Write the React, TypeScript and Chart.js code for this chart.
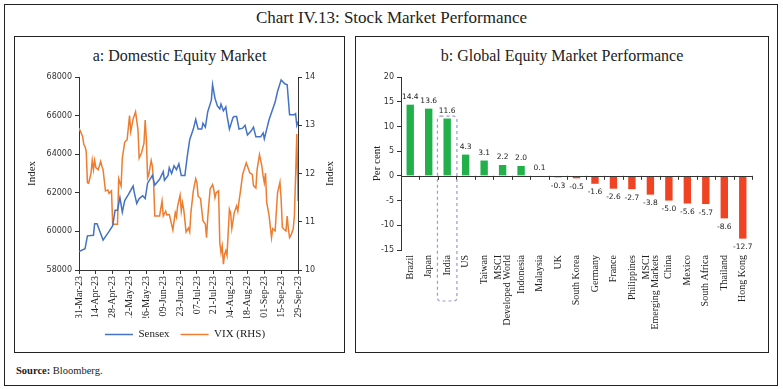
import React, { useEffect, useRef } from 'react';
import { Chart, registerables } from 'chart.js';

Chart.register(...registerables);

// ---------- Panel a: Domestic equity market ----------
// x values are calendar days since 31-Mar-23
const xTickLabels = [
  '31-Mar-23', '14-Apr-23', '28-Apr-23', '12-May-23', '26-May-23', '09-Jun-23', '23-Jun-23',
  '07-Jul-23', '21-Jul-23', '04-Aug-23', '18-Aug-23', '01-Sep-23', '15-Sep-23', '29-Sep-23',
];

const sensexDays = [
  0, 5, 7, 12, 13, 15, 20, 25, 28, 30, 32, 34, 36, 38, 41, 45, 46, 48, 50, 53, 55, 57, 61, 63, 67,
  70, 71, 74, 75, 77, 79, 81, 83, 85, 88, 90, 92, 95, 97, 99, 102, 103, 105, 107, 110, 111, 113,
  115, 117, 118, 120, 122, 123, 125, 128, 129, 131, 133, 136, 138, 140, 143, 145, 147, 151, 153,
  154, 156, 158, 163, 165, 168, 171, 173, 175, 179, 180, 181, 182,
];
const sensexValues = [
  58960, 59100, 59770, 59800, 60400, 60400, 59550, 60000, 60300, 61100, 61100, 61750, 61000, 61600,
  61900, 62350, 62000, 61450, 61700, 61850, 61700, 62500, 62900, 62400, 62700, 63100, 62650, 62900,
  63300, 63000, 63400, 63200, 63500, 62900, 62900, 63900, 64750, 65300, 65800, 65300, 65300, 65600,
  65400, 66200, 66800, 67600, 66900, 66500, 66350, 66600, 66250, 66450, 66000, 65300, 65900, 65950,
  65950, 65300, 65350, 65500, 65000, 65200, 65400, 64900, 64900, 65100, 64800, 65300, 65800, 66700,
  67250, 67850, 67650, 67600, 66050, 66050, 66100, 65500, 65700,
];

const vixDays = [
  0, 3, 4, 5, 6, 7, 8, 10, 11, 12, 13, 14, 16, 18, 19, 20, 22, 24, 25, 27, 28, 32, 33, 34, 35, 36,
  38, 40, 42, 43, 45, 47, 49, 50, 52, 54, 55, 56, 57, 58, 60, 61, 62, 63, 67, 69, 70, 72, 73, 75,
  76, 78, 80, 81, 82, 84, 85, 86, 87, 89, 91, 92, 93, 95, 97, 98, 99, 101, 103, 105, 106, 107, 109,
  111, 112, 113, 114, 116, 117, 118, 119, 120, 121, 122, 123, 125, 126, 127, 128, 129, 131, 132,
  133, 134, 136, 139, 140, 142, 144, 145, 147, 148, 150, 152, 153, 154, 155, 156, 158, 160, 161,
  163, 165, 167, 168, 169, 171, 172, 173, 174, 175, 176, 178, 179, 180, 181, 182,
];
const vixValues = [
  12.94, 12.77, 12.6, 12.56, 12.46, 11.81, 11.8, 12.01, 12.27, 12.08, 12.27, 12.12, 12.08, 12.25,
  12.15, 12.08, 11.64, 11.66, 11.59, 11.64, 10.95, 10.95, 11.89, 11.81, 11.74, 12.32, 12.65, 12.7,
  13.2, 12.87, 13.13, 13.28, 12.91, 12.32, 12.43, 12.63, 13.11, 12.7, 11.91, 11.98, 12.27, 12.15,
  11.81, 11.12, 11.12, 11.43, 11.12, 11.22, 11.14, 11.15, 11.05, 10.83, 11.19, 11.1, 11.33, 11.55,
  11.22, 11.4, 11.26, 10.79, 10.87, 10.79, 11.19, 11.64, 11.89, 11.81, 11.53, 11.48, 11.02, 10.95,
  10.67, 11.09, 11.68, 11.77, 11.67, 11.5, 11.6, 11.64, 10.57, 10.36, 10.5, 10.12, 10.33, 10.4,
  10.3, 11.26, 11.19, 10.86, 11.02, 11.19, 11.33, 11.22, 11.43, 11.6, 11.98, 12.22, 12.15, 12.01,
  11.98, 11.75, 11.7, 12.08, 12.39, 12.15, 11.95, 11.81, 12.01, 11.4, 11.12, 10.67, 10.86, 10.81,
  11.6, 11.82, 11.46, 10.88, 10.83, 10.81, 11.12, 10.85, 10.67, 10.71, 10.85, 11.12, 11.95, 12.82,
  11.43,
];

// ---------- Panel b: Global equity market performance ----------
const countries: (string | string[])[] = [
  'Brazil', 'Japan', 'India', 'US', 'Taiwan', ['MSCI', 'Developed World'], 'Indonesia', 'Malaysia',
  'UK', 'South Korea', 'Germany', 'France', 'Philippines', ['MSCI', 'Emerging Markets'], 'China',
  'Mexico', 'South Africa', 'Thailand', 'Hong Kong',
];
const changes = [
  14.4, 13.6, 11.6, 4.3, 3.1, 2.2, 2.0, 0.1, -0.3, -0.5, -1.6, -2.6, -2.7, -3.8, -5.0, -5.6, -5.7,
  -8.6, -12.7,
];
const highlighted = 'India';

const SERIF = '"Liberation Serif", serif';
const SANS = '"DejaVu Sans", sans-serif';
const AXIS = '#333333';
const TEXT = '#222222';
const GREEN = '#22b04b';
const RED = '#ef4323';

// right-hand axis title, reading bottom-to-top like the left one
const rightTitle = {
  id: 'rightTitle',
  afterDraw(chart: any) {
    const { ctx, chartArea } = chart;
    ctx.save();
    ctx.translate(chart.width - 14, (chartArea.top + chartArea.bottom) / 2);
    ctx.rotate(-Math.PI / 2);
    ctx.fillStyle = TEXT;
    ctx.font = `11px ${SERIF}`;
    ctx.textAlign = 'center';
    ctx.textBaseline = 'middle';
    ctx.fillText('Index', 0, 0);
    ctx.restore();
  },
};

function DomesticChart() {
  const ref = useRef<HTMLCanvasElement | null>(null);
  useEffect(() => {
    if (!ref.current) return;
    const chart = new Chart(ref.current, {
      type: 'line',
      data: {
        datasets: [
          {
            label: 'Sensex',
            data: sensexDays.map((d, i) => ({ x: d, y: sensexValues[i] })),
            borderColor: '#4472c4',
            backgroundColor: '#4472c4',
            borderWidth: 1.5,
            pointRadius: 0,
            yAxisID: 'y',
          },
          {
            label: 'VIX (RHS)',
            data: vixDays.map((d, i) => ({ x: d, y: vixValues[i] })),
            borderColor: '#ed7d31',
            backgroundColor: '#ed7d31',
            borderWidth: 1.5,
            pointRadius: 0,
            yAxisID: 'y1',
          },
        ],
      },
      options: {
        animation: false,
        responsive: false,
        maintainAspectRatio: false,
        layout: { padding: { top: 11, left: 0, right: 0, bottom: 2 } },
        plugins: {
          legend: {
            position: 'bottom',
            labels: {
              usePointStyle: true,
              pointStyle: 'line',
              pointStyleWidth: 28,
              font: { family: SERIF, size: 11 },
              color: TEXT,
              padding: 11,
            },
          },
          tooltip: { enabled: false },
        },
        scales: {
          x: {
            type: 'linear',
            min: 0,
            max: 182,
            ticks: {
              stepSize: 14,
              autoSkip: false,
              maxRotation: 90,
              minRotation: 90,
              callback: (v: any) => xTickLabels[Math.round(Number(v) / 14)] ?? '',
              font: { family: SERIF, size: 10 },
              color: TEXT,
              padding: 2,
            },
            grid: { display: true, drawOnChartArea: false, tickLength: 4, color: AXIS },
            border: { color: AXIS },
            afterFit: (s: any) => { s.height = 48; },
          },
          y: {
            position: 'left',
            min: 58000,
            max: 68000,
            ticks: { stepSize: 2000, font: { family: SANS, size: 8 }, color: AXIS, padding: 3, callback: (v: any) => String(v) },
            grid: { drawOnChartArea: false, tickLength: 4, color: AXIS },
            border: { color: AXIS },
            title: { display: true, text: 'Index', font: { family: SERIF, size: 11 }, color: TEXT, padding: 0 },
            afterFit: (s: any) => { s.width = 53; },
          },
          y1: {
            position: 'right',
            min: 10,
            max: 14,
            ticks: { stepSize: 1, font: { family: SANS, size: 8 }, color: AXIS, padding: 3, callback: (v: any) => String(v) },
            grid: { drawOnChartArea: false, tickLength: 4, color: AXIS },
            border: { color: AXIS },
            afterFit: (s: any) => { s.width = 46; },
          },
        },
      } as any,
      plugins: [rightTitle],
    });
    return () => chart.destroy();
  }, []);
  return <canvas ref={ref} width={318} height={286} style={{ position: 'absolute', left: 26, top: 66, width: 318, height: 286 }} />;
}

const barExtras = {
  id: 'barExtras',
  afterDatasetsDraw(chart: any) {
    const { ctx, chartArea, scales } = chart;
    const x = scales.x;
    const y = scales.y;
    const y0 = y.getPixelForValue(0);
    const n = countries.length;
    const step = (chartArea.right - chartArea.left) / n;
    ctx.save();
    ctx.strokeStyle = AXIS;
    ctx.lineWidth = 1;
    ctx.beginPath();
    ctx.moveTo(chartArea.left, Math.round(y0) + 0.5);
    ctx.lineTo(chartArea.right, Math.round(y0) + 0.5);
    for (let i = 1; i <= n; i++) {
      const bx = Math.round(chartArea.left + i * step) + 0.5;
      ctx.moveTo(bx, y0);
      ctx.lineTo(bx, y0 + 4);
    }
    ctx.stroke();

    // value labels
    const meta = chart.getDatasetMeta(0);
    ctx.fillStyle = TEXT;
    ctx.font = `7.5px ${SANS}`;
    ctx.textAlign = 'center';
    meta.data.forEach((bar: any, i: number) => {
      const v = changes[i];
      if (v >= 0) {
        ctx.textBaseline = 'bottom';
        ctx.fillText(v.toFixed(1), bar.x, bar.y - 4);
      } else {
        ctx.textBaseline = 'top';
        ctx.fillText(v.toFixed(1), bar.x, bar.y + 5);
      }
    });

    // category labels, rotated, multi-line labels centred on the bar
    ctx.font = `10px ${SERIF}`;
    ctx.textAlign = 'right';
    ctx.textBaseline = 'middle';
    const lh = 9;
    countries.forEach((lab, i) => {
      const lines = Array.isArray(lab) ? lab : [lab];
      const cx = x.getPixelForValue(i);
      ctx.save();
      ctx.translate(cx, chartArea.bottom + 5);
      ctx.rotate(-Math.PI / 2);
      lines.forEach((ln, j) => {
        ctx.fillText(ln, 0, (j - (lines.length - 1) / 2) * lh);
      });
      ctx.restore();
    });

    // dashed highlight box around India
    const idx = countries.indexOf(highlighted);
    const cx = x.getPixelForValue(idx);
    const left = cx - step / 2 - 0.5;
    const right = cx + step / 2 + 0.5;
    const top = y.getPixelForValue(changes[idx] + 0.5);
    const bottom = chartArea.bottom + 51;
    ctx.strokeStyle = '#a193d6';
    ctx.lineWidth = 1.2;
    ctx.setLineDash([3, 3]);
    ctx.beginPath();
    ctx.roundRect(left, top, right - left, bottom - top, 3);
    ctx.stroke();
    ctx.restore();
  },
};

function GlobalChart() {
  const ref = useRef<HTMLCanvasElement | null>(null);
  useEffect(() => {
    if (!ref.current) return;
    const chart = new Chart(ref.current, {
      type: 'bar',
      data: {
        labels: countries as any,
        datasets: [
          {
            data: changes,
            backgroundColor: changes.map((v) => (v >= 0 ? GREEN : RED)),
            barPercentage: 0.4,
            categoryPercentage: 1,
          },
        ],
      },
      options: {
        animation: false,
        responsive: false,
        maintainAspectRatio: false,
        layout: { padding: { top: 11, left: 0, right: 13, bottom: 0 } },
        plugins: { legend: { display: false }, tooltip: { enabled: false } },
        scales: {
          x: {
            ticks: { display: false },
            grid: { display: false },
            border: { display: false },
            afterFit: (s: any) => { s.height = 100; },
          },
          y: {
            min: -15,
            max: 20,
            ticks: { stepSize: 5, font: { family: SANS, size: 8 }, color: AXIS, padding: 3 },
            grid: { drawOnChartArea: false, tickLength: 4, color: AXIS },
            border: { color: AXIS },
            title: { display: true, text: 'Per cent', font: { family: SERIF, size: 11 }, color: TEXT, padding: { top: 0, bottom: 0 } },
            afterFit: (s: any) => { s.width = 30; },
          },
        },
      } as any,
      plugins: [barExtras],
    });
    return () => chart.destroy();
  }, []);
  return <canvas ref={ref} width={394} height={284} style={{ position: 'absolute', left: 371, top: 66, width: 394, height: 284 }} />;
}

export default function App() {
  const box = (l: number, t: number, w: number, h: number) => ({
    position: 'absolute' as const, left: l, top: t, width: w, height: h,
    border: '1px solid #222', boxSizing: 'border-box' as const,
  });
  return (
    <div style={{ position: 'absolute', left: 0, top: 0, width: 783, height: 389, background: '#fff', fontFamily: SERIF, color: TEXT }}>
      <div style={box(4, 4, 774, 382)} />
      <div style={{ position: 'absolute', left: 0, top: 8, width: 783, textAlign: 'center', fontSize: 17, lineHeight: '20px' }}>
        Chart IV.13: Stock Market Performance
      </div>
      <div style={box(14, 36, 331, 317)} />
      <div style={box(355, 36, 414, 317)} />
      <div style={{ position: 'absolute', left: 14, top: 46, width: 331, textAlign: 'center', fontSize: 16, lineHeight: '20px' }}>
        a: Domestic Equity Market
      </div>
      <div style={{ position: 'absolute', left: 355, top: 46, width: 414, textAlign: 'center', fontSize: 16, lineHeight: '20px' }}>
        b: Global Equity Market Performance
      </div>
      <DomesticChart />
      <GlobalChart />
      <div style={{ position: 'absolute', left: 16, top: 364, fontSize: 10.5, lineHeight: '14px' }}>
        <b>Source:</b> Bloomberg.
      </div>
    </div>
  );
}
